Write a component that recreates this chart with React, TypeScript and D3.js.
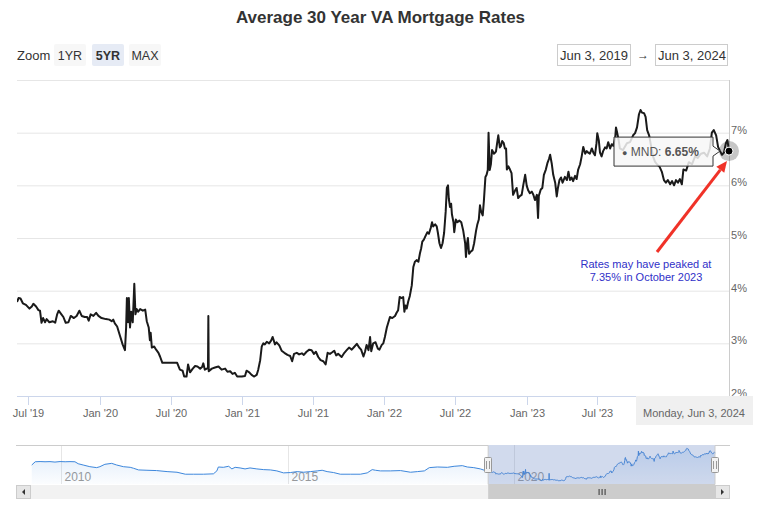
import React from 'react';
import * as d3 from 'd3';

const TITLE = 'Average 30 Year VA Mortgage Rates';
const SERIES_NAME = 'MND';
const RANGE_START = '2019-06-03';
const RANGE_END = '2024-06-03';
const NAV_START = '2009-05-04';
const ZOOM_BUTTONS = ['1YR', '5YR', 'MAX'];
const SELECTED_BUTTON = '5YR';
const ANNOTATION_LINES = ['Rates may have peaked at', '7.35% in October 2023'];

const va2019: [string, number][] = [
  ['2019-06-03', 3.80], ['2019-06-04', 3.80], ['2019-06-07', 3.86], ['2019-06-12', 3.85], ['2019-06-18', 3.76],
  ['2019-06-26', 3.73], ['2019-07-05', 3.66], ['2019-07-11', 3.70], ['2019-07-15', 3.75], ['2019-07-22', 3.70],
  ['2019-07-28', 3.63], ['2019-08-01', 3.62], ['2019-08-05', 3.39], ['2019-08-09', 3.48], ['2019-08-14', 3.40],
  ['2019-08-18', 3.46], ['2019-08-25', 3.40], ['2019-09-03', 3.42], ['2019-09-09', 3.39], ['2019-09-14', 3.55],
  ['2019-09-18', 3.62], ['2019-09-24', 3.56], ['2019-09-30', 3.50], ['2019-10-06', 3.39], ['2019-10-13', 3.40],
  ['2019-10-19', 3.52], ['2019-10-27', 3.48], ['2019-11-03', 3.52], ['2019-11-10', 3.62], ['2019-11-16', 3.52],
  ['2019-11-24', 3.50], ['2019-11-30', 3.50], ['2019-12-04', 3.43], ['2019-12-09', 3.55], ['2019-12-16', 3.52],
  ['2019-12-23', 3.58], ['2019-12-29', 3.52],
];

const va2020: [string, number][] = [
  ['2020-01-06', 3.48], ['2020-01-17', 3.46], ['2020-01-26', 3.45], ['2020-02-01', 3.42], ['2020-02-05', 3.45],
  ['2020-02-09', 3.38], ['2020-02-15', 3.32], ['2020-02-22', 3.15], ['2020-02-29', 2.98], ['2020-03-06', 2.87],
  ['2020-03-09', 3.30], ['2020-03-11', 3.86], ['2020-03-14', 3.40], ['2020-03-16', 3.86], ['2020-03-19', 3.30],
  ['2020-03-22', 3.60], ['2020-03-26', 3.40], ['2020-03-30', 4.13], ['2020-04-02', 3.55], ['2020-04-05', 3.65],
  ['2020-04-09', 3.60], ['2020-04-14', 3.65], ['2020-04-21', 3.62], ['2020-04-27', 3.64], ['2020-05-01', 3.42],
  ['2020-05-06', 3.30], ['2020-05-09', 3.06], ['2020-05-11', 3.20], ['2020-05-14', 2.92], ['2020-05-20', 2.94],
  ['2020-05-25', 2.88], ['2020-05-31', 2.82], ['2020-06-04', 2.75], ['2020-06-10', 2.63], ['2020-06-21', 2.63],
  ['2020-07-04', 2.63], ['2020-07-18', 2.63], ['2020-07-25', 2.50], ['2020-08-01', 2.48], ['2020-08-05', 2.37],
  ['2020-08-11', 2.37], ['2020-08-15', 2.60], ['2020-08-20', 2.45], ['2020-08-27', 2.52], ['2020-09-02', 2.57],
  ['2020-09-08', 2.56], ['2020-09-15', 2.52], ['2020-09-20', 2.55], ['2020-09-23', 2.62], ['2020-09-27', 2.50],
  ['2020-10-02', 2.52], ['2020-10-05', 2.52], ['2020-10-06', 3.52], ['2020-10-07', 2.47], ['2020-10-15', 2.52],
  ['2020-10-23', 2.54], ['2020-11-01', 2.56], ['2020-11-09', 2.50], ['2020-11-18', 2.52], ['2020-11-24', 2.46],
  ['2020-12-01', 2.47], ['2020-12-07', 2.42], ['2020-12-13', 2.44], ['2020-12-19', 2.37], ['2020-12-31', 2.37],
];

const va2021: [string, number][] = [
  ['2021-01-08', 2.38], ['2021-01-12', 2.48], ['2021-01-19', 2.45], ['2021-01-25', 2.40], ['2021-01-31', 2.37],
  ['2021-02-07', 2.40], ['2021-02-11', 2.50], ['2021-02-16', 2.68], ['2021-02-20', 2.94], ['2021-02-24', 3.00],
  ['2021-02-28', 2.98], ['2021-03-05', 3.03], ['2021-03-11', 3.00], ['2021-03-16', 3.05], ['2021-03-20', 3.12],
  ['2021-03-26', 2.98], ['2021-03-30', 3.02], ['2021-04-06', 2.96], ['2021-04-12', 2.86], ['2021-04-19', 2.82],
  ['2021-04-27', 2.78], ['2021-05-04', 2.76], ['2021-05-09', 2.66], ['2021-05-14', 2.80], ['2021-05-21', 2.82],
  ['2021-05-27', 2.79], ['2021-06-03', 2.81], ['2021-06-08', 2.78], ['2021-06-15', 2.84], ['2021-06-22', 2.88],
  ['2021-06-28', 2.87], ['2021-07-04', 2.80], ['2021-07-09', 2.84], ['2021-07-15', 2.74], ['2021-07-21', 2.68],
  ['2021-07-28', 2.66], ['2021-08-03', 2.60], ['2021-08-08', 2.82], ['2021-08-14', 2.80], ['2021-08-20', 2.83],
  ['2021-08-25', 2.86], ['2021-08-30', 2.77], ['2021-09-04', 2.80], ['2021-09-13', 2.74], ['2021-09-20', 2.82],
  ['2021-09-26', 2.87], ['2021-10-02', 2.92], ['2021-10-09', 2.88], ['2021-10-15', 2.93], ['2021-10-22', 2.99],
  ['2021-10-28', 2.92], ['2021-11-02', 2.88], ['2021-11-08', 2.75], ['2021-11-12', 2.84], ['2021-11-16', 2.97],
  ['2021-11-21', 2.87], ['2021-11-25', 3.12], ['2021-11-28', 2.85], ['2021-12-03', 3.00], ['2021-12-09', 3.02],
  ['2021-12-15', 2.90], ['2021-12-19', 2.88], ['2021-12-25', 2.97], ['2021-12-29', 3.00],
];

const va2022: [string, number][] = [
  ['2022-01-02', 3.12], ['2022-01-07', 3.30], ['2022-01-11', 3.40], ['2022-01-15', 3.50], ['2022-01-21', 3.48],
  ['2022-01-28', 3.52], ['2022-02-01', 3.58], ['2022-02-05', 3.63], ['2022-02-09', 3.88], ['2022-02-14', 3.86],
  ['2022-02-18', 3.88], ['2022-02-21', 3.60], ['2022-02-24', 3.72], ['2022-02-27', 3.66], ['2022-03-03', 3.80],
  ['2022-03-07', 3.90], ['2022-03-12', 4.10], ['2022-03-16', 4.45], ['2022-03-20', 4.55], ['2022-03-25', 4.58],
  ['2022-03-29', 4.55], ['2022-04-02', 4.71], ['2022-04-05', 4.80], ['2022-04-08', 4.93], ['2022-04-12', 4.97],
  ['2022-04-17', 5.05], ['2022-04-21', 5.11], ['2022-04-25', 5.08], ['2022-04-30', 5.20], ['2022-05-03', 5.30],
  ['2022-05-06', 5.22], ['2022-05-11', 5.26], ['2022-05-15', 5.22], ['2022-05-18', 5.10], ['2022-05-22', 4.90],
  ['2022-05-26', 4.81], ['2022-05-30', 4.90], ['2022-06-03', 5.10], ['2022-06-07', 5.50], ['2022-06-10', 5.95],
  ['2022-06-13', 6.00], ['2022-06-15', 5.75], ['2022-06-18', 5.59], ['2022-06-21', 5.65], ['2022-06-23', 5.45],
  ['2022-06-27', 5.30], ['2022-06-29', 5.11], ['2022-07-03', 5.35], ['2022-07-07', 5.30], ['2022-07-12', 5.33],
  ['2022-07-17', 5.30], ['2022-07-22', 5.14], ['2022-07-27', 4.90], ['2022-07-29', 4.64], ['2022-08-01', 4.90],
  ['2022-08-03', 5.00], ['2022-08-06', 4.70], ['2022-08-10', 4.74], ['2022-08-15', 4.77], ['2022-08-19', 4.90],
  ['2022-08-24', 5.14], ['2022-08-27', 5.25], ['2022-08-31', 5.35], ['2022-09-03', 5.62], ['2022-09-06', 5.50],
  ['2022-09-10', 5.43], ['2022-09-13', 5.70], ['2022-09-17', 6.16], ['2022-09-20', 6.20], ['2022-09-23', 6.29],
  ['2022-09-25', 7.00], ['2022-09-28', 6.29], ['2022-10-01', 6.40], ['2022-10-04', 6.67], ['2022-10-09', 6.60],
  ['2022-10-14', 6.64], ['2022-10-17', 6.80], ['2022-10-20', 6.95], ['2022-10-24', 6.72], ['2022-10-27', 6.75],
  ['2022-10-30', 6.84], ['2022-11-03', 6.80], ['2022-11-06', 6.70], ['2022-11-09', 6.70], ['2022-11-11', 6.30],
  ['2022-11-15', 6.36], ['2022-11-19', 6.30], ['2022-11-23', 6.23], ['2022-11-27', 5.82], ['2022-12-02', 5.90],
  ['2022-12-06', 5.95], ['2022-12-10', 5.76], ['2022-12-15', 5.80], ['2022-12-19', 5.82], ['2022-12-23', 6.00],
  ['2022-12-28', 6.20],
];

const va2023: [string, number][] = [
  ['2023-01-01', 5.99], ['2023-01-05', 5.90], ['2023-01-09', 5.85], ['2023-01-14', 5.88], ['2023-01-18', 5.82],
  ['2023-01-22', 5.72], ['2023-01-27', 5.82], ['2023-01-30', 5.38], ['2023-02-01', 5.80], ['2023-02-06', 5.92],
  ['2023-02-10', 5.95], ['2023-02-14', 6.20], ['2023-02-19', 6.30], ['2023-02-23', 6.42], ['2023-02-27', 6.50],
  ['2023-03-02', 6.58], ['2023-03-06', 6.42], ['2023-03-10', 6.20], ['2023-03-15', 6.05], ['2023-03-19', 5.79],
  ['2023-03-22', 5.95], ['2023-03-26', 6.10], ['2023-03-30', 6.15], ['2023-04-03', 6.05], ['2023-04-09', 6.16],
  ['2023-04-14', 6.10], ['2023-04-18', 6.26], ['2023-04-22', 6.10], ['2023-04-26', 6.15], ['2023-04-30', 6.08],
  ['2023-05-05', 6.18], ['2023-05-09', 6.12], ['2023-05-13', 6.30], ['2023-05-18', 6.40], ['2023-05-22', 6.55],
  ['2023-05-26', 6.73], ['2023-05-31', 6.60], ['2023-06-04', 6.65], ['2023-06-08', 6.62], ['2023-06-12', 6.60],
  ['2023-06-17', 6.70], ['2023-06-21', 6.62], ['2023-06-25', 6.57], ['2023-06-29', 6.80], ['2023-07-01', 6.99],
  ['2023-07-05', 6.85], ['2023-07-08', 6.62], ['2023-07-12', 6.55], ['2023-07-16', 6.65], ['2023-07-21', 6.72],
  ['2023-07-25', 6.70], ['2023-07-29', 6.82], ['2023-08-03', 6.70], ['2023-08-07', 6.78], ['2023-08-11', 6.75],
  ['2023-08-16', 6.90], ['2023-08-18', 7.10], ['2023-08-21', 7.00], ['2023-08-25', 6.85], ['2023-08-28', 6.70],
  ['2023-09-05', 6.67], ['2023-09-15', 6.80], ['2023-09-23', 6.82], ['2023-10-01', 6.95], ['2023-10-06', 6.99],
  ['2023-10-11', 7.10], ['2023-10-16', 7.35], ['2023-10-20', 7.43], ['2023-10-24', 7.38], ['2023-10-29', 7.37],
  ['2023-11-02', 7.30], ['2023-11-06', 7.05], ['2023-11-11', 6.95], ['2023-11-16', 6.75], ['2023-11-21', 6.55],
  ['2023-11-26', 6.45], ['2023-12-01', 6.40], ['2023-12-08', 6.35], ['2023-12-14', 6.25], ['2023-12-19', 6.10],
  ['2023-12-24', 6.05], ['2023-12-29', 6.10],
];

const va2024: [string, number][] = [
  ['2024-01-04', 6.02], ['2024-01-09', 6.08], ['2024-01-14', 6.00], ['2024-01-19', 6.10], ['2024-01-24', 6.05],
  ['2024-01-29', 6.12], ['2024-02-03', 6.02], ['2024-02-07', 6.30], ['2024-02-14', 6.28], ['2024-02-21', 6.44],
  ['2024-02-29', 6.40], ['2024-03-08', 6.55], ['2024-03-15', 6.52], ['2024-03-23', 6.60], ['2024-03-31', 6.62],
  ['2024-04-08', 6.55], ['2024-04-15', 6.70], ['2024-04-20', 7.00], ['2024-04-25', 7.05], ['2024-05-01', 6.95],
  ['2024-05-06', 6.73], ['2024-05-11', 6.65], ['2024-05-16', 6.58], ['2024-05-21', 6.62], ['2024-05-26', 6.80],
  ['2024-05-30', 6.86], ['2024-06-03', 6.65],
];

// Longer history shown only in the navigator
const navHistory: [string, number][] = [
  ['2009-05-10', 4.82], ['2009-06-07', 5.33], ['2009-07-16', 5.36], ['2009-08-25', 5.33], ['2009-10-04', 5.35],
  ['2009-11-13', 5.28], ['2009-12-24', 5.36], ['2010-02-03', 5.33], ['2010-03-14', 5.35], ['2010-04-23', 5.33],
  ['2010-05-19', 5.02], ['2010-06-28', 4.82], ['2010-08-21', 4.56], ['2010-10-15', 4.41], ['2010-11-10', 4.56],
  ['2010-12-20', 4.93], ['2011-02-13', 5.08], ['2011-03-25', 4.82], ['2011-05-18', 4.56], ['2011-07-12', 4.46],
  ['2011-08-08', 4.31], ['2011-09-17', 4.05], ['2011-11-24', 4.00], ['2012-02-09', 3.95], ['2012-05-04', 3.79],
  ['2012-07-23', 3.69], ['2012-09-28', 3.38], ['2012-12-03', 3.38], ['2013-02-21', 3.38], ['2013-05-12', 3.44],
  ['2013-06-09', 3.90], ['2013-06-21', 4.51], ['2013-07-31', 4.46], ['2013-09-12', 4.62], ['2013-10-08', 4.21],
  ['2013-11-03', 4.46], ['2013-12-13', 4.36], ['2014-01-22', 4.21], ['2014-03-03', 4.36], ['2014-04-27', 4.21],
  ['2014-06-21', 4.10], ['2014-08-15', 4.05], ['2014-10-05', 3.90], ['2014-11-28', 3.59], ['2015-01-22', 3.64],
  ['2015-03-18', 3.79], ['2015-05-08', 3.69], ['2015-07-02', 3.79], ['2015-08-26', 3.90], ['2015-10-05', 4.00],
  ['2015-11-14', 3.79], ['2016-01-05', 3.64], ['2016-02-28', 3.38], ['2016-05-19', 3.38], ['2016-08-08', 3.38],
  ['2016-10-02', 3.59], ['2016-11-11', 4.10], ['2016-12-07', 4.00], ['2017-01-16', 3.90], ['2017-04-06', 3.90],
  ['2017-06-27', 3.95], ['2017-09-16', 3.69], ['2017-11-10', 3.79], ['2018-01-05', 3.90], ['2018-02-14', 4.41],
  ['2018-04-20', 4.51], ['2018-07-10', 4.46], ['2018-09-02', 4.62], ['2018-11-07', 4.72], ['2018-12-17', 4.51],
  ['2019-02-07', 4.41], ['2019-04-01', 4.21],
];

const xTickDates = ['2019-07-01', '2020-01-01', '2020-07-01', '2021-01-01', '2021-07-01', '2022-01-01', '2022-07-01', '2023-01-01', '2023-07-01'];
const xTickLabels = ["Jul '19", "Jan '20", "Jul '20", "Jan '21", "Jul '21", "Jan '22", "Jul '22", "Jan '23", "Jul '23"];
const yTicks = [2, 3, 4, 5, 6, 7, 8];
const navYears = ['2010', '2015', '2020'];

const FONT = "'Liberation Sans', Arial, Helvetica, sans-serif";
const parse = d3.timeParse('%Y-%m-%d');

type Pt = { date: Date; v: number };
const toPts = (arr: [string, number][]): Pt[] => arr.map(([d, v]) => ({ date: parse(d) as Date, v }));

export default function App() {
  const W = 761, H = 509;
  const main = toPts([...va2019, ...va2020, ...va2021, ...va2022, ...va2023, ...va2024]);
  const navData = [...toPts(navHistory), ...main];

  const plotL = 17, plotR = 729, plotT = 80, plotB = 396;
  const x = d3.scaleTime().domain([parse(RANGE_START) as Date, parse(RANGE_END) as Date]).range([plotL, plotR]);
  const y = d3.scaleLinear().domain([2, 8]).range([plotB, plotT]);

  const navT = 445, navB = 484, navL = 31, navR = 715;
  const nx = d3.scaleTime().domain([parse(NAV_START) as Date, parse(RANGE_END) as Date]).range([navL, navR]);
  const ny = d3.scaleLinear().domain([1.85, 7.95]).range([navB, navT]);

  const line = d3.line<Pt>().x(d => x(d.date)).y(d => y(d.v));
  const navLine = d3.line<Pt>().x(d => nx(d.date)).y(d => ny(d.v));
  const navArea = d3.area<Pt>().x(d => nx(d.date)).y0(navB).y1(d => ny(d.v));

  const last = main[main.length - 1];
  const px = x(last.date), py = y(last.v);

  const selL = nx(parse(RANGE_START) as Date), selR = nx(parse(RANGE_END) as Date);
  const sbT = 485, sbH = 14;

  const btnX = [54, 92, 129];

  const tipL = px - 115, tipR = px - 16, tipT = py - 14, tipB = py + 15;
  const tipPath = `M${tipL},${tipT} L${tipR},${tipT} L${tipR},${py - 5} L${tipR + 7},${py} L${tipR},${py + 5} L${tipR},${tipB} L${tipL},${tipB} Z`;

  const arrowStart = [657, 252];
  const arrowEnd = [px - 2, py + 10];
  const ang = Math.atan2(arrowEnd[1] - arrowStart[1], arrowEnd[0] - arrowStart[0]);
  const ah = 11, aw = 5;
  const bx = arrowEnd[0] - ah * Math.cos(ang), by = arrowEnd[1] - ah * Math.sin(ang);
  const headPath = `M${arrowEnd[0]},${arrowEnd[1]} L${bx + aw * Math.sin(ang)},${by - aw * Math.cos(ang)} L${bx - aw * Math.sin(ang)},${by + aw * Math.cos(ang)} Z`;

  return (
    <div style={{ position: 'absolute', left: 0, top: 0 }}>
      <svg width={W} height={H} style={{ display: 'block', fontFamily: FONT }}>
        <defs>
          <clipPath id="plotClip">
            <rect x={plotL} y={plotT - 2} width={plotR - plotL + 4} height={plotB - plotT + 4} />
          </clipPath>
          <linearGradient id="navGrad" x1="0" y1="0" x2="0" y2="1">
            <stop offset="0%" stopColor="#4a90e2" stopOpacity={0.18} />
            <stop offset="100%" stopColor="#4a90e2" stopOpacity={0.02} />
          </linearGradient>
        </defs>
        <rect x={0} y={0} width={W} height={H} fill="#fff" />

        <text x={380.5} y={23} textAnchor="middle" fontSize={17} fontWeight="bold" fill="#333">{TITLE}</text>

        {/* range selector */}
        <text x={17} y={59.5} fontSize={13} fill="#333">Zoom</text>
        {ZOOM_BUTTONS.map((b, i) => (
          <g key={b}>
            <rect x={btnX[i]} y={44} width={32} height={22} rx={2} fill={b === SELECTED_BUTTON ? '#e6ebf5' : '#f7f7f7'} />
            <text x={btnX[i] + 16} y={59.5} textAnchor="middle" fontSize={12.5} fill="#333" fontWeight={b === SELECTED_BUTTON ? 'bold' : 'normal'}>{b}</text>
          </g>
        ))}
        <rect x={557.5} y={44.5} width={73} height={21} fill="#fff" stroke="#cccccc" />
        <text x={560} y={59.5} fontSize={13} fill="#333">Jun 3, 2019</text>
        <text x={643} y={59} textAnchor="middle" fontSize={12} fill="#333">→</text>
        <rect x={655.5} y={44.5} width={72} height={21} fill="#fff" stroke="#cccccc" />
        <text x={658} y={59.5} fontSize={13} fill="#333">Jun 3, 2024</text>

        {/* grid */}
        {yTicks.map(t => (
          <line key={t} x1={plotL} x2={plotR} y1={y(t) + 0.5} y2={y(t) + 0.5} stroke="#e6e6e6" strokeWidth={1} />
        ))}
        <line x1={plotL} x2={plotR} y1={plotB + 0.5} y2={plotB + 0.5} stroke="#ccd6eb" />
        {xTickDates.map((d, i) => {
          const tx = Math.round(x(parse(d) as Date)) + 0.5;
          return (
            <g key={d}>
              <line x1={tx} x2={tx} y1={plotB} y2={plotB + 9} stroke="#ccd6eb" />
              <text x={tx} y={417} textAnchor="middle" fontSize={11} fill="#666">{xTickLabels[i]}</text>
            </g>
          );
        })}
        <line x1={plotR + 0.5} x2={plotR + 0.5} y1={plotT} y2={plotB} stroke="#cccccc" />
        {yTicks.filter(t => t < 8).map(t => (
          <text key={t} x={731} y={y(t) + 1} fontSize={11} fill="#666">{t}%</text>
        ))}

        {/* series */}
        <g clipPath="url(#plotClip)">
          <path d={line(main) || ''} fill="none" stroke="#1a1a1a" strokeWidth={2} strokeLinejoin="round" />
        </g>

        {/* hover marker */}
        <circle cx={px} cy={py} r={10} fill="#1a1a1a" fillOpacity={0.25} />
        <circle cx={px} cy={py} r={4} fill="#000" stroke="#fff" strokeWidth={1} />

        {/* tooltip */}
        <path d={tipPath} fill="#f7f7f7" fillOpacity={0.85} stroke="#333" strokeWidth={1} />
        <text x={tipL + 8} y={py + 4.5} fontSize={12} fill="#555">
          <tspan fontSize={9}>●</tspan>
          <tspan> {SERIES_NAME}: </tspan>
          <tspan fontWeight="bold">{last.v.toFixed(2)}%</tspan>
        </text>

        {/* annotation arrow */}
        <line x1={arrowStart[0]} y1={arrowStart[1]} x2={bx} y2={by} stroke="#f03228" strokeWidth={3} />
        <path d={headPath} fill="#f03228" />
        {ANNOTATION_LINES.map((t, i) => (
          <text key={i} x={646} y={268 + i * 13} textAnchor="middle" fontSize={11} fill="#3030c8">{t}</text>
        ))}

        {/* x crosshair label */}
        <rect x={px - 93} y={plotB} width={117} height={29} fill="#f0f0f0" />
        <text x={px - 35} y={417} textAnchor="middle" fontSize={11} fill="#666">Monday, Jun 3, 2024</text>

        {/* navigator */}
        {navYears.map(yr => {
          const gx = Math.round(nx(parse(`${yr}-01-01`) as Date)) + 0.5;
          return (
            <g key={yr}>
              <line x1={gx} x2={gx} y1={navT} y2={navB} stroke="#e6e6e6" />
              <text x={gx + 3} y={481} fontSize={12} fill="#999">{yr}</text>
            </g>
          );
        })}
        <path d={navArea(navData) || ''} fill="url(#navGrad)" />
        <path d={navLine(navData) || ''} fill="none" stroke="#3d87dc" strokeWidth={1} />
        <rect x={selL} y={navT} width={selR - selL} height={navB - navT} fill="rgba(102,133,194,0.3)" />
        <path d={`M${plotL - 1},${navT + 0.5} L${selL},${navT + 0.5} L${selL},${navB + 0.5} L${selR},${navB + 0.5} L${selR},${navT + 0.5} L${plotR + 1},${navT + 0.5}`} fill="none" stroke="#cccccc" />
        {[selL, selR].map((hx, i) => (
          <g key={i}>
            <rect x={Math.round(hx) - 3.5} y={457.5} width={7} height={15} rx={1} fill="#f2f2f2" stroke="#999" />
            <line x1={Math.round(hx) - 1.5} x2={Math.round(hx) - 1.5} y1={461} y2={469} stroke="#999" />
            <line x1={Math.round(hx) + 1.5} x2={Math.round(hx) + 1.5} y1={461} y2={469} stroke="#999" />
          </g>
        ))}

        {/* scrollbar */}
        <rect x={plotL} y={sbT} width={plotR - plotL} height={sbH} fill="#f2f2f2" />
        <rect x={selL} y={sbT} width={selR - selL} height={sbH} fill="#cccccc" />
        {[-3, 0, 3].map(o => (
          <line key={o} x1={(selL + selR) / 2 + o + 0.5} x2={(selL + selR) / 2 + o + 0.5} y1={sbT + 4} y2={sbT + 10} stroke="#333" />
        ))}
        <rect x={plotL - 0.5} y={sbT + 0.5} width={14} height={sbH - 1} fill="#e6e6e6" stroke="#cccccc" />
        <path d={`M${plotL + 8},${sbT + 4} L${plotL + 8},${sbT + 10} L${plotL + 5},${sbT + 7} Z`} fill="#333" />
        <rect x={plotR - 13.5} y={sbT + 0.5} width={14} height={sbH - 1} fill="#e6e6e6" stroke="#cccccc" />
        <path d={`M${plotR - 8},${sbT + 4} L${plotR - 8},${sbT + 10} L${plotR - 5},${sbT + 7} Z`} fill="#333" />
      </svg>
    </div>
  );
}
